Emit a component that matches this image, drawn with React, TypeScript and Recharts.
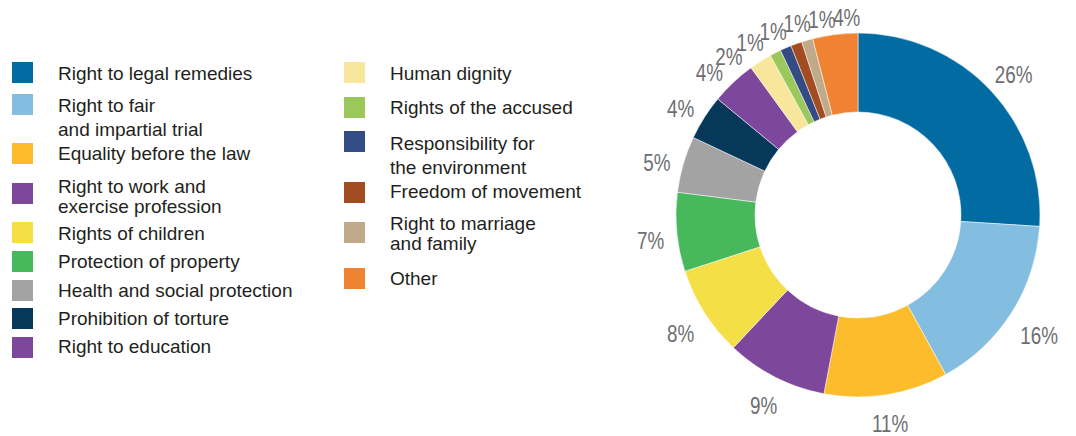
import React from "react";
import { PieChart, Pie, Cell } from "recharts";

const categories = [
  "Right to legal remedies",
  "Right to fair\nand impartial trial",
  "Equality before the law",
  "Right to work and\nexercise profession",
  "Rights of children",
  "Protection of property",
  "Health and social protection",
  "Prohibition of torture",
  "Right to education",
  "Human dignity",
  "Rights of the accused",
  "Responsibility for\nthe environment",
  "Freedom of movement",
  "Right to marriage\nand family",
  "Other",
];

const shares = [26, 16, 11, 9, 8, 7, 5, 4, 4, 2, 1, 1, 1, 1, 4];

const colors = [
  "#016ba2",
  "#83bde0",
  "#fcbc2b",
  "#7d479c",
  "#f5df47",
  "#47b85c",
  "#a3a3a3",
  "#06385a",
  "#7d479c",
  "#f7e69c",
  "#9bc85a",
  "#334c84",
  "#a34c22",
  "#c0aa8a",
  "#ef8332",
];

const data = categories.map((name, i) => ({ name, value: shares[i] }));

// legend layout: column x, square top, first baseline, gap between wrapped lines
const legendLayout = [
  { x: 12, top: 62, base: 80, gap: 24 },
  { x: 12, top: 94, base: 112, gap: 24 },
  { x: 12, top: 143, base: 160, gap: 24 },
  { x: 12, top: 183, base: 193, gap: 20 },
  { x: 12, top: 222, base: 240, gap: 24 },
  { x: 12, top: 251, base: 268, gap: 24 },
  { x: 12, top: 280, base: 297, gap: 24 },
  { x: 12, top: 308, base: 325, gap: 24 },
  { x: 12, top: 337, base: 353, gap: 24 },
  { x: 344, top: 62, base: 80, gap: 24 },
  { x: 344, top: 97, base: 114, gap: 24 },
  { x: 344, top: 131, base: 150, gap: 24 },
  { x: 344, top: 182, base: 198, gap: 24 },
  { x: 344, top: 222, base: 230, gap: 20 },
  { x: 344, top: 268, base: 285, gap: 24 },
];

// label angles (degrees clockwise from 12 o'clock), nudged apart so the
// small slices at the top don't stack their labels on each other
const MIN_SEP = 7;
const labelAngles = (() => {
  const total = shares.reduce((a, b) => a + b, 0);
  let acc = 0;
  const ang = shares.map((v) => {
    const mid = ((acc + v / 2) / total) * 360;
    acc += v;
    return mid;
  });
  const n = ang.length;
  for (let k = 0; k < 200; k++) {
    for (let i = 0; i < n; i++) {
      const j = (i + 1) % n;
      const gap = (((ang[j] - ang[i]) % 360) + 360) % 360;
      if (gap < MIN_SEP) {
        const s = (MIN_SEP - gap) / 2;
        ang[i] -= s;
        ang[j] += s;
      }
    }
  }
  return ang;
})();

const RAD = Math.PI / 180;
const LABEL_SIZE = 23;
const NARROW = 0.82;

const renderLabel = (props: any) => {
  const { cx, cy, outerRadius, value, index } = props;
  const text = `${value}%`;
  const t = labelAngles[index] * RAD;
  const ux = Math.sin(t);
  const uy = -Math.cos(t);
  const w = (String(value).length * 0.556 + 0.889) * LABEL_SIZE * NARROW;
  const h = 17;
  const r = outerRadius + 12 + (Math.abs(ux) * w) / 2 + (Math.abs(uy) * h) / 2;
  const x = cx + r * ux;
  const y = cy + r * uy + 6;
  return (
    <text
      transform={`translate(${x},${y}) scale(${NARROW},1)`}
      x={0}
      y={0}
      textAnchor="middle"
      dominantBaseline="central"
      fill="#6d6e71"
      fontSize={LABEL_SIZE}
      fontFamily="'Liberation Sans', Arial, sans-serif"
    >
      {text}
    </text>
  );
};

const LegendBlock = () => (
  <svg
    width={620}
    height={436}
    style={{ position: "absolute", left: 0, top: 0 }}
  >
    {categories.map((name, i) => {
      const l = legendLayout[i];
      return (
        <g key={name}>
          <rect x={l.x} y={l.top} width={21} height={21} fill={colors[i]} />
          <text
            x={l.x + 46}
            y={l.base}
            fill="#231f20"
            fontSize={19}
            fontFamily="'Liberation Sans', Arial, sans-serif"
          >
            {name.split("\n").map((line, j) => (
              <tspan key={j} x={l.x + 46} y={l.base + j * l.gap}>
                {line}
              </tspan>
            ))}
          </text>
        </g>
      );
    })}
  </svg>
);

const App: React.FC = () => {
  return (
    <div
      style={{
        position: "absolute",
        left: 0,
        top: 0,
        width: 1076,
        height: 436,
        background: "#fff",
      }}
    >
      <LegendBlock />
      <div style={{ position: "absolute", left: 0, top: 0 }}>
        <PieChart
          width={1076}
          height={436}
          margin={{ top: 0, right: 0, bottom: 0, left: 0 }}
        >
          <Pie
            data={data}
            dataKey="value"
            nameKey="name"
            cx={858}
            cy={215}
            innerRadius={103}
            outerRadius={182}
            startAngle={90}
            endAngle={-270}
            stroke="#fff"
            strokeWidth={0.5}
            label={renderLabel}
            labelLine={false}
            isAnimationActive={false}
          >
            {data.map((d, i) => (
              <Cell key={d.name} fill={colors[i]} />
            ))}
          </Pie>
        </PieChart>
      </div>
    </div>
  );
};

export default App;
